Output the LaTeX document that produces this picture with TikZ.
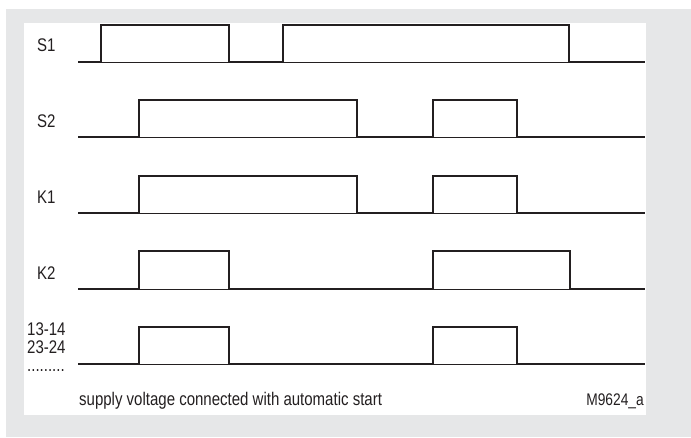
\documentclass[tikz,border=0pt]{standalone}
\usepackage{fontspec}
\setmainfont{Liberation Sans}[FakeStretch=0.82]
\definecolor{bggray}{HTML}{E6E7E8}
\definecolor{ink}{HTML}{231F20}
\begin{document}
\begin{tikzpicture}[x=1pt,y=-1pt,
  wave/.style={draw=ink,line width=2.3pt,line join=miter},
  base/.style={draw=ink,line width=0.8pt},
  lbl/.style={anchor=base west,inner sep=0pt,text=ink,font=\fontsize{18.3}{18}\selectfont}]
\useasboundingbox (0,0) rectangle (691,437);
\fill[bggray] (6,9) rectangle (691,437);
\fill[white] (24,23) rectangle (646,415);
% thin baselines
\foreach \y in {62,137,213,289,364} \draw[base] (78,\y) -- (645,\y);
% S1
\draw[wave] (78,62) -| (101,25) -| (229,62) -| (283,25) -| (569,62) -- (645,62);
% S2
\draw[wave] (78,137) -| (139,100) -| (357,137) -| (433,100) -| (517,137) -- (645,137);
% K1
\draw[wave] (78,213) -| (139,176) -| (357,213) -| (433,176) -| (517,213) -- (645,213);
% K2
\draw[wave] (78,289) -| (139,251) -| (229,289) -| (433,251) -| (570,289) -- (645,289);
% 13-14
\draw[wave] (78,364) -| (139,327) -| (229,364) -| (433,327) -| (517,364) -- (645,364);
% labels
\node[lbl] (s1) at (37,51) {S1};
\node[lbl] (s2) at (37,127) {S2};
\node[lbl] (k1) at (37,203) {K1};
\node[lbl] (k2) at (37,279) {K2};
\node[lbl] (c1) at (27,335) {13-14};
\node[lbl] (c2) at (27,353) {23-24};
\node[lbl] (c3) at (27,371) {.........};
\node[lbl] (cap) at (79,405) {supply voltage connected with automatic start};
\node[lbl,anchor=base east,font=\fontsize{16.8}{17}\selectfont] (ref) at (644,405) {M9624\_a};
\end{tikzpicture}
\end{document}
